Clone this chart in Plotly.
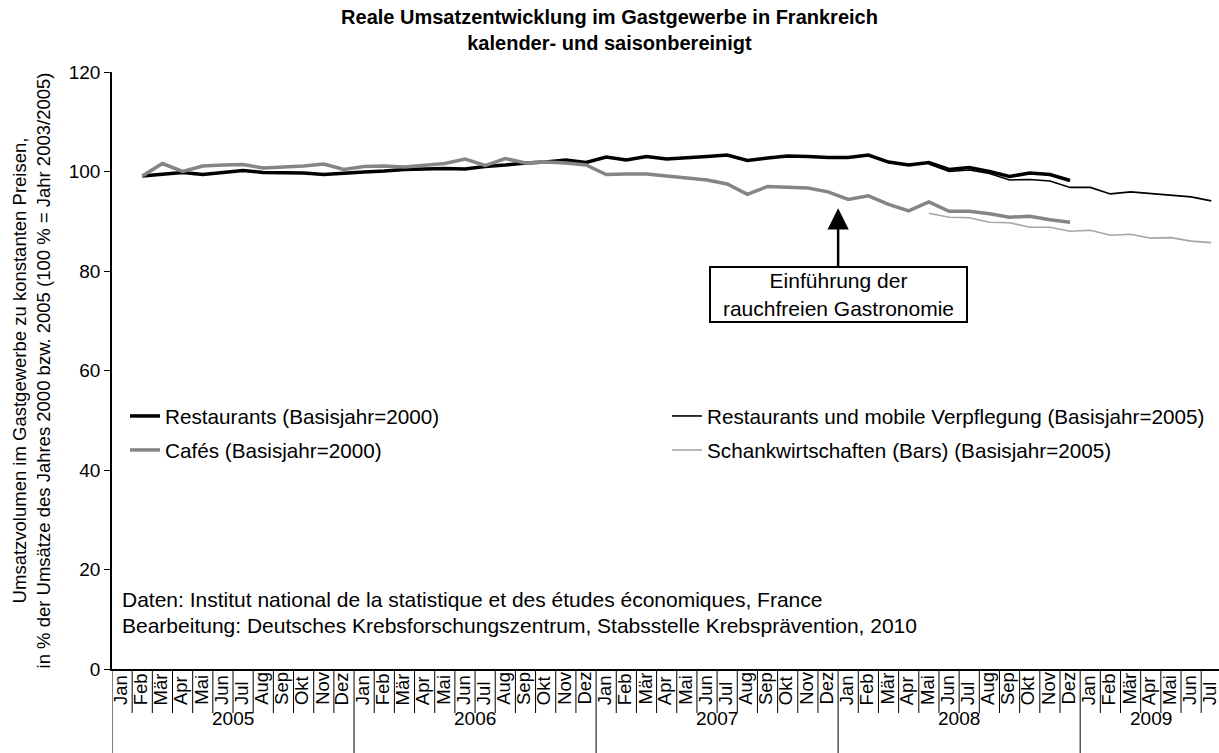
import plotly.graph_objects as go

# ---------------- data ----------------
years = ["2005", "2006", "2007", "2008", "2009"]
months = ["Jan", "Feb", "Mär", "Apr", "Mai", "Jun", "Jul", "Aug", "Sep", "Okt", "Nov", "Dez"]
months_per_year = [12, 12, 12, 12, 7]

# Restaurants (Basisjahr=2000): Feb 2005 - Dez 2008
restaurants_2000_start = "Feb 2005"
restaurants_2000 = [99.1, 99.4, 99.8, 99.4, 99.8, 100.2, 99.8, 99.8, 99.7, 99.4, 99.7,
                    99.9, 100.1, 100.4, 100.5, 100.6, 100.5, 101.0, 101.3, 101.7, 101.9, 102.3, 101.8,
                    102.9, 102.3, 103.0, 102.5, 102.7, 103.0, 103.3, 102.2, 102.7, 103.1, 103.0, 102.8,
                    102.8, 103.3, 101.9, 101.3, 101.8, 100.4, 100.8, 100.0, 99.0, 99.7, 99.4, 98.2]

# Cafés (Basisjahr=2000): Feb 2005 - Dez 2008
cafes_2000_start = "Feb 2005"
cafes_2000 = [99.1, 101.6, 100.0, 101.1, 101.3, 101.4, 100.7, 100.9, 101.1, 101.5, 100.4,
              101.0, 101.1, 100.9, 101.2, 101.6, 102.5, 101.2, 102.6, 101.7, 101.9, 101.7, 101.3,
              99.4, 99.5, 99.5, 99.1, 98.7, 98.3, 97.5, 95.4, 97.0, 96.8, 96.7, 95.9,
              94.4, 95.1, 93.4, 92.1, 93.9, 92.0, 92.0, 91.5, 90.8, 91.0, 90.3, 89.8]

# Restaurants und mobile Verpflegung (Basisjahr=2005): Mai 2008 - Jul 2009
restaurants_2005_start = "Mai 2008"
restaurants_2005 = [101.5, 100.0, 100.3, 99.6, 98.3, 98.4, 98.1, 96.8,
                    96.8, 95.5, 95.9, 95.6, 95.3, 94.9, 94.1]

# Schankwirtschaften (Bars) (Basisjahr=2005): Mai 2008 - Jul 2009
bars_2005_start = "Mai 2008"
bars_2005 = [91.6, 90.8, 90.7, 89.8, 89.7, 88.8, 88.8, 88.0,
             88.2, 87.2, 87.4, 86.6, 86.7, 86.0, 85.7]

y_ticks = [0, 20, 40, 60, 80, 100, 120]

annotation_text = "Einführung der<br>rauchfreien Gastronomie"
annotation_category_boundary = ("Dez 2007", "Jan 2008")
annotation_arrow_tip = 92.6
annotation_box_center = 75.2

source_lines = [
    "Daten: Institut national de la statistique et des études économiques, France",
    "Bearbeitung: Deutsches Krebsforschungszentrum, Stabsstelle Krebsprävention, 2010",
]

# ---------------- categories ----------------
categories = []
cat_month = []
for y, n in zip(years, months_per_year):
    for m in months[:n]:
        categories.append(f"{m} {y}")
        cat_month.append(m)


def seg(start, values):
    i = categories.index(start)
    return categories[i:i + len(values)]


FONT = "Liberation Sans, Arial, sans-serif"
fig = go.Figure()

fig.add_trace(go.Scatter(x=seg(restaurants_2000_start, restaurants_2000), y=restaurants_2000,
                         mode="lines", name="Restaurants (Basisjahr=2000)",
                         line=dict(color="#000000", width=3.5), legend="legend"))
fig.add_trace(go.Scatter(x=seg(restaurants_2005_start, restaurants_2005), y=restaurants_2005,
                         mode="lines", name="Restaurants und mobile Verpflegung (Basisjahr=2005)",
                         line=dict(color="#000000", width=1.6), legend="legend"))
fig.add_trace(go.Scatter(x=seg(cafes_2000_start, cafes_2000), y=cafes_2000,
                         mode="lines", name="Cafés (Basisjahr=2000)",
                         line=dict(color="#858585", width=3.5), legend="legend2"))
fig.add_trace(go.Scatter(x=seg(bars_2005_start, bars_2005), y=bars_2005,
                         mode="lines", name="Schankwirtschaften (Bars) (Basisjahr=2005)",
                         line=dict(color="#a6a6a6", width=1.6), legend="legend2"))

W, H = 1219, 753
ML, MR, MT, MB = 112, 0, 72, 84
plot_h = H - MT - MB
plot_w = W - ML - MR
n_cat = len(categories)

shapes = []
annotations = []

# month separators and labels
for k in range(n_cat + 1):
    is_year = (k == 0) or (k == n_cat) or (k < n_cat and cat_month[k] == "Jan")
    shapes.append(dict(type="line", xref="x", yref="paper", x0=k - 0.5, x1=k - 0.5,
                       y0=0, y1=(-MB / plot_h) if is_year else (-44 / plot_h),
                       line=dict(color="#000000", width=1)))
for k, cat in enumerate(categories):
    annotations.append(dict(x=cat, xref="x", y=-38 / plot_h, yref="paper", text=cat_month[k],
                            textangle=-90, showarrow=False, xanchor="center", yanchor="bottom",
                            xshift=-2,
                            font=dict(family=FONT, size=18.5, color="#000000")))
# year labels
start = 0
for y, n in zip(years, months_per_year):
    annotations.append(dict(x=start + (n - 1) / 2, xref="x", y=-49 / plot_h, yref="paper",
                            text=y, showarrow=False, xanchor="center", yanchor="middle",
                            font=dict(family=FONT, size=19, color="#000000")))
    start += n

# arrow + box
bx = (categories.index(annotation_category_boundary[0]) + categories.index(annotation_category_boundary[1])) / 2
annotations.append(dict(x=bx, y=annotation_arrow_tip, xref="x", yref="y",
                        ax=bx, ay=annotation_box_center, axref="x", ayref="y",
                        text=annotation_text, showarrow=True, arrowhead=2, arrowsize=1.7,
                        arrowwidth=2.5, arrowcolor="#000000",
                        bordercolor="#000000", borderwidth=2, borderpad=2, bgcolor="#ffffff",
                        width=251, height=49,
                        font=dict(family=FONT, size=21, color="#000000")))

# source text
for i, t in enumerate(source_lines):
    annotations.append(dict(x=8 / plot_w, y=(70 - 26 * i) / plot_h, xref="paper", yref="paper",
                            text=t, showarrow=False, xanchor="left", yanchor="middle",
                            font=dict(family=FONT, size=21, color="#000000")))

fig.update_layout(
    width=W, height=H,
    margin=dict(l=ML, r=MR, t=MT, b=MB, autoexpand=False),
    paper_bgcolor="#ffffff", plot_bgcolor="#ffffff",
    font=dict(family=FONT, color="#000000"),
    title=dict(text="<b>Reale Umsatzentwicklung im Gastgewerbe in Frankreich<br>kalender- und saisonbereinigt</b>",
               x=0.5, xanchor="center", y=1 - 24 / H, yanchor="middle",
               font=dict(family=FONT, size=20, color="#000000")),
    xaxis=dict(type="category", categoryorder="array", categoryarray=categories,
               range=[-0.5, -0.5 + plot_w / 20.17], automargin=False,
               showticklabels=False, ticks="", showgrid=False, zeroline=False,
               showline=True, linecolor="#000000", linewidth=1.5),
    yaxis=dict(range=[0, 120], tickvals=y_ticks, showgrid=False, zeroline=False, automargin=False,
               showline=True, linecolor="#000000", linewidth=1.5,
               ticks="outside", ticklen=6, tickcolor="#000000", tickwidth=1.2,
               tickfont=dict(family=FONT, size=19, color="#000000"),
               title=dict(text="Umsatzvolumen im Gastgewerbe zu konstanten Preisen,<br>"
                               "in % der Umsätze des Jahres 2000 bzw. 2005 (100 % = Jahr 2003/2005)",
                          font=dict(family=FONT, size=18.5, color="#000000"), standoff=13)),
    legend=dict(orientation="h", x=13 / plot_w, xanchor="left", y=(669 - 396) / plot_h, yanchor="top",
                entrywidth=497, entrywidthmode="pixels", bgcolor="rgba(0,0,0,0)",
                font=dict(family=FONT, size=20.7, color="#000000"), traceorder="normal"),
    legend2=dict(orientation="h", x=13 / plot_w, xanchor="left", y=(669 - 430) / plot_h, yanchor="top",
                 entrywidth=497, entrywidthmode="pixels", bgcolor="rgba(0,0,0,0)",
                 font=dict(family=FONT, size=20.7, color="#000000"), traceorder="normal"),
    shapes=shapes,
    annotations=annotations,
)

fig.write_html("out.html", config={"displayModeBar": False},
               post_script="document.body.style.margin='0px';")
